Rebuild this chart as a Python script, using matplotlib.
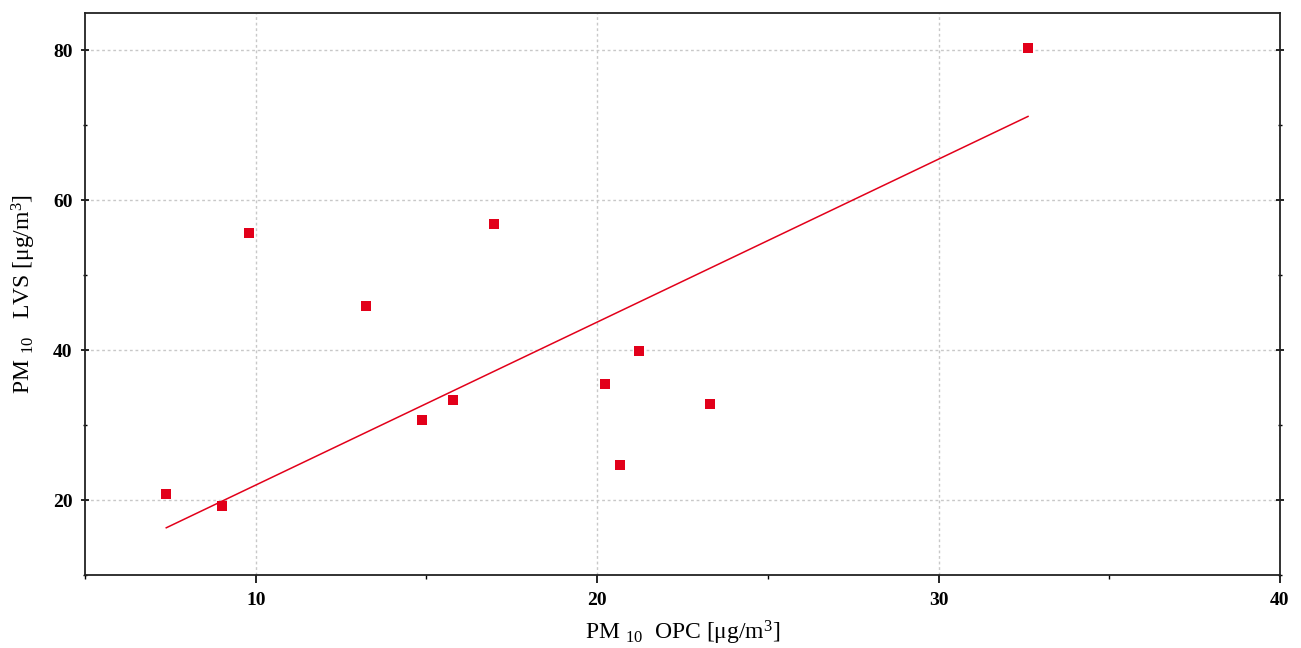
import matplotlib
matplotlib.use("Agg")
import matplotlib.pyplot as plt
import numpy as np
from matplotlib.ticker import MultipleLocator

#----- Data -----
opc_pm10 = [7.38, 9.02, 9.81, 13.24, 14.88, 15.79, 16.99, 20.22, 20.66, 21.22, 23.30, 32.62]
lvs_pm10 = [20.8, 19.2, 55.7, 45.9, 30.7, 33.3, 56.8, 35.5, 24.7, 39.9, 32.8, 80.3]

fit_slope = 2.175
fit_intercept = 0.25

#----- Style -----
plt.rcParams["font.family"] = ["Liberation Serif", "DejaVu Serif"]
plt.rcParams["mathtext.fontset"] = "custom"
plt.rcParams["mathtext.rm"] = "Liberation Serif"
plt.rcParams["mathtext.it"] = "Liberation Serif:italic"

red = "#e2001a"

fig = plt.figure(figsize=(13.01, 6.48), dpi=100)
ax = fig.add_axes([85/1301, 1-575/648, (1280-85)/1301, (575-13)/648])

ax.scatter(opc_pm10, lvs_pm10, marker="s", s=42, color=red, zorder=3, linewidths=0)

fx = np.array([min(opc_pm10), max(opc_pm10)])
ax.plot(fx, fit_slope*fx + fit_intercept, color=red, lw=1.1, zorder=2)

ax.set_xlim(5, 40)
ax.set_ylim(10, 85)
ax.xaxis.set_major_locator(MultipleLocator(10))
ax.xaxis.set_minor_locator(MultipleLocator(5))
ax.yaxis.set_major_locator(MultipleLocator(20))
ax.yaxis.set_minor_locator(MultipleLocator(10))

ax.grid(True, which="major", color="#c8c8c8", linestyle=(0, (2, 2)), lw=1.0)
ax.set_axisbelow(True)

for s in ax.spines.values():
    s.set_linewidth(1.3)
    s.set_color("#222222")

ax.tick_params(axis="both", which="major", length=6, width=1.2, direction="out",
               labelsize=14, pad=6)
ax.tick_params(axis="both", which="minor", length=3, width=1.0, direction="out")
ax.tick_params(axis="y", right=True, which="both")
ax.tick_params(axis="y", which="both", direction="inout")
for lab in ax.get_xticklabels() + ax.get_yticklabels():
    lab.set_fontweight("bold")

ax.set_xlabel(r"PM $_{10}$  OPC [μg/m$^3$]", fontsize=17, labelpad=7)
ax.set_ylabel(r"PM $_{10}$   LVS [μg/m$^3$]", fontsize=17, labelpad=11)

plt.savefig("out.png", dpi=100)
